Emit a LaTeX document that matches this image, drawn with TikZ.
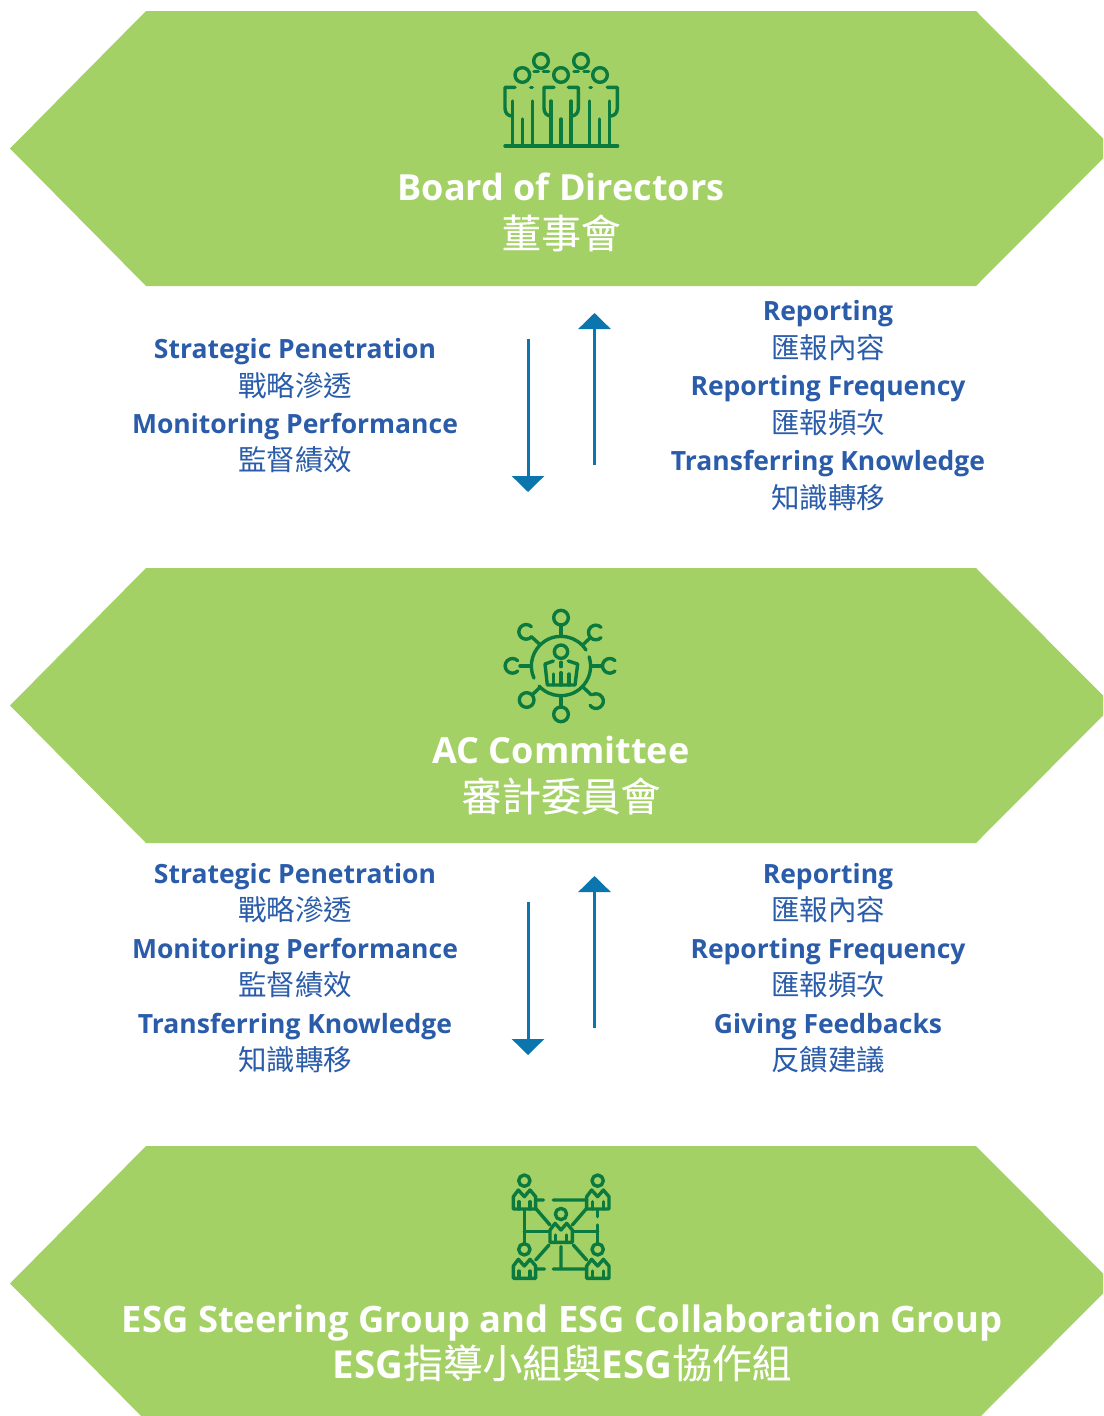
\documentclass[tikz,border=0pt]{standalone}
\usepackage{fontspec}
\setmainfont{Open Sans}[BoldFont={Open Sans Bold}]
\newfontfamily\cjk{Noto Sans CJK TC}
\newfontfamily\cjkheavy{Noto Sans CJK TC}[FakeBold=0.2]
\usetikzlibrary{arrows.meta}
\definecolor{hexgreen}{HTML}{A3D165}
\definecolor{icongreen}{HTML}{0B7A3E}
\definecolor{arrowblue}{HTML}{0B76AD}
\definecolor{textblue}{HTML}{2A5CAA}
\tikzset{
  hexbox/.style={fill=hexgreen},
  iconline/.style={draw=icongreen, line width=3.4pt, line cap=round, line join=round},
  flowarrow/.style={draw=arrowblue, line width=3pt, -{Triangle[width=32pt,length=16pt]}},
  titlelabel/.style={white, font=\bfseries\fontsize{36}{36}\selectfont, inner sep=0pt, text height=32pt, text depth=6pt},
  titlecjk/.style={white, font=\cjkheavy\fontsize{39.7}{39.7}\selectfont, inner sep=0pt},
  enlabel/.style={textblue, font=\bfseries\fontsize{26.5}{26.5}\selectfont, inner sep=0pt, text height=25pt, text depth=6pt},
  zhlabel/.style={textblue, font=\cjk\fontsize{28.5}{28.5}\selectfont, inner sep=0pt, yshift=-0.8pt},
}
\begin{document}
\begin{tikzpicture}[x=1pt, y=-1pt]
\useasboundingbox (0,0) rectangle (1103,1416);
\clip (0,0) rectangle (1103,1416);
\fill[white] (0,0) rectangle (1103,1416);

% Hexagon bands
\foreach \t in {11,568,1146} {
    \fill[hexbox] (10,\t+137.5) -- (146,\t) -- (976,\t) -- (1113,\t+137.5) -- (976,\t+275) -- (146,\t+275) -- cycle;
}

% Board icon
\begin{scope}[shift={(490,40)}, scale=1/3]
\foreach \x in {97,213,330} { \draw[iconline] (\x,105) circle (22); }
\foreach \x in {153,273} { \draw[iconline] (\x,63) circle (22); }
\draw[iconline] (132,95) -- (145,95) (160,95) -- (176,95) (252,95) -- (265,95) (282,95) -- (296,95);
\draw[iconline] (45,318) -- (383,318);
\foreach \x in {67,183,299} {
    \draw[iconline] (\x,183) -- (\x,318) (\x+30,237) -- (\x+30,318) (\x+60,183) -- (\x+60,318);
}
\draw[iconline] (75,142) -- (45,142) -- (45,205) .. controls (45,220) and (55,228) .. (66,228);
\draw[iconline] (122,142) -- (127,142) (300,142) -- (304,142);
\draw[iconline] (192,142) -- (162,142) -- (162,205) .. controls (162,220) and (172,228) .. (183,228);
\draw[iconline] (235,142) -- (265,142) -- (265,205) .. controls (265,220) and (255,228) .. (244,228);
\draw[iconline] (352,142) -- (382,142) -- (382,205) .. controls (382,220) and (372,228) .. (361,228);
\end{scope}

% Committee icon
\begin{scope}[shift={(490,600)}, scale=1/3]
\draw[iconline] (288,150) arc[start angle=-32.6, end angle=-204, radius=89];
\draw[iconline] (147,258) arc[start angle=137.7, end angle=-18, radius=89];
\draw[iconline] (213,105) -- (213,76) (213,288) -- (213,320) (305,198) -- (337,198) (122,198) -- (90,198);
\draw[iconline] (278,135) -- (302,112) (148,132) -- (124,110) (150,262) -- (126,285) (280,262) -- (304,285);
\draw[iconline] (213,53) circle (22) (213,343) circle (22) (110,300) circle (22);
\draw[iconline] (375,213) arc[start angle=45, end angle=315, radius=22];
\draw[iconline] (83,182) arc[start angle=-45, end angle=-315, radius=22];
\draw[iconline] (333,113) arc[start angle=45, end angle=315, radius=22];
\draw[iconline] (124,80) arc[start angle=-45, end angle=-315, radius=22];
\draw[iconline] (300,316) arc[start angle=145, end angle=-115, radius=22];
\draw[iconline] (213,155) circle (20);
\draw[iconline] (190,183) -- (165,192) -- (172,255) -- (255,255) -- (263,192) -- (235,183);
\draw[iconline] (190,222) -- (190,255) (237,222) -- (237,255) (213,187) -- (213,200) (213,218) -- (213,255);
\end{scope}

% ESG icon
\begin{scope}[shift={(495,1165)}, scale=1/3]
\foreach \x/\y/\hy in {0/0/47, 220/0/47, 0/208/45, 220/208/45, 110/100/47} {
    \draw[iconline] (\x+55,\y+132) -- (\x+55,\y+95) -- (\x+70,\y+75) -- (\x+88,\y+95) -- (\x+105,\y+75) -- (\x+122,\y+95) -- (\x+122,\y+132) -- cycle;
    \draw[iconline] (\x+72,\y+110) -- (\x+72,\y+132) (\x+105,\y+110) -- (\x+105,\y+132);
    \draw[iconline] (\x+88,\y+\hy) circle (17);
}
\draw[iconline] (125,105) -- (145,105) (175,105) -- (275,105) (122,130) -- (165,180) (275,130) -- (232,180);
\draw[iconline] (88,135) -- (88,236) (88,200) -- (160,200) (235,200) -- (308,200) (308,135) -- (308,155) (308,180) -- (308,236);
\draw[iconline] (122,312) -- (148,312) (175,312) -- (275,312) (198,245) -- (198,312) (162,240) -- (122,285) (235,240) -- (275,285);
\end{scope}

% Band titles
\node[titlelabel] (board) at (561,187) {Board of Directors};
\node[titlecjk] (boardzh) at (561,233) {董事會};
\node[titlelabel] (committee) at (561,750) {AC Committee};
\node[titlecjk] (committeezh) at (561,796) {審計委員會};
\node[titlelabel, font=\bfseries\fontsize{36.4}{36.4}\selectfont] (esg) at (562,1319) {ESG Steering Group and ESG Collaboration Group};
\node[titlelabel, font=\bfseries\fontsize{38.5}{38.5}\selectfont] (esgzh) at (562,1365) {ESG{\cjkheavy\mdseries\fontsize{39.7}{39.7}\selectfont 指導小組與}ESG{\cjkheavy\mdseries\fontsize{39.7}{39.7}\selectfont 協作組}};

% Upper left labels
\node[enlabel] (stratA) at (295,349) {Strategic Penetration};
\node[zhlabel] (stratzhA) at (295,385) {戰略滲透};
\node[enlabel] (monA) at (295,424) {Monitoring Performance};
\node[zhlabel] (monzhA) at (295,459) {監督績效};

% Upper right labels
\node[enlabel] (repA) at (828,311) {Reporting};
\node[zhlabel] (repzhA) at (828,347) {匯報內容};
\node[enlabel] (freqA) at (828,386) {Reporting Frequency};
\node[zhlabel] (freqzhA) at (828,422) {匯報頻次};
\node[enlabel] (transA) at (828,461) {Transferring Knowledge};
\node[zhlabel] (transzhA) at (828,497) {知識轉移};

% Lower left labels
\node[enlabel] (stratB) at (295,874) {Strategic Penetration};
\node[zhlabel] (stratzhB) at (295,909) {戰略滲透};
\node[enlabel] (monB) at (295,949) {Monitoring Performance};
\node[zhlabel] (monzhB) at (295,984) {監督績效};
\node[enlabel] (transB) at (295,1024) {Transferring Knowledge};
\node[zhlabel] (transzhB) at (295,1059) {知識轉移};

% Lower right labels
\node[enlabel] (repB) at (828,874) {Reporting};
\node[zhlabel] (repzhB) at (828,909) {匯報內容};
\node[enlabel] (freqB) at (828,949) {Reporting Frequency};
\node[zhlabel] (freqzhB) at (828,984) {匯報頻次};
\node[enlabel] (feedB) at (828,1024) {Giving Feedbacks};
\node[zhlabel] (feedzhB) at (828,1059) {反饋建議};

% Arrows between the bands
\foreach \d/\n in {0/A,563/B} {
    \coordinate (down\n a) at (528,339+\d);
    \coordinate (down\n b) at (528,492+\d);
    \coordinate (up\n a) at (594.5,465+\d);
    \coordinate (up\n b) at (594.5,313+\d);
    \draw[flowarrow] (down\n a) -- (down\n b);
    \draw[flowarrow] (up\n a) -- (up\n b);
}
\end{tikzpicture}
\end{document}
